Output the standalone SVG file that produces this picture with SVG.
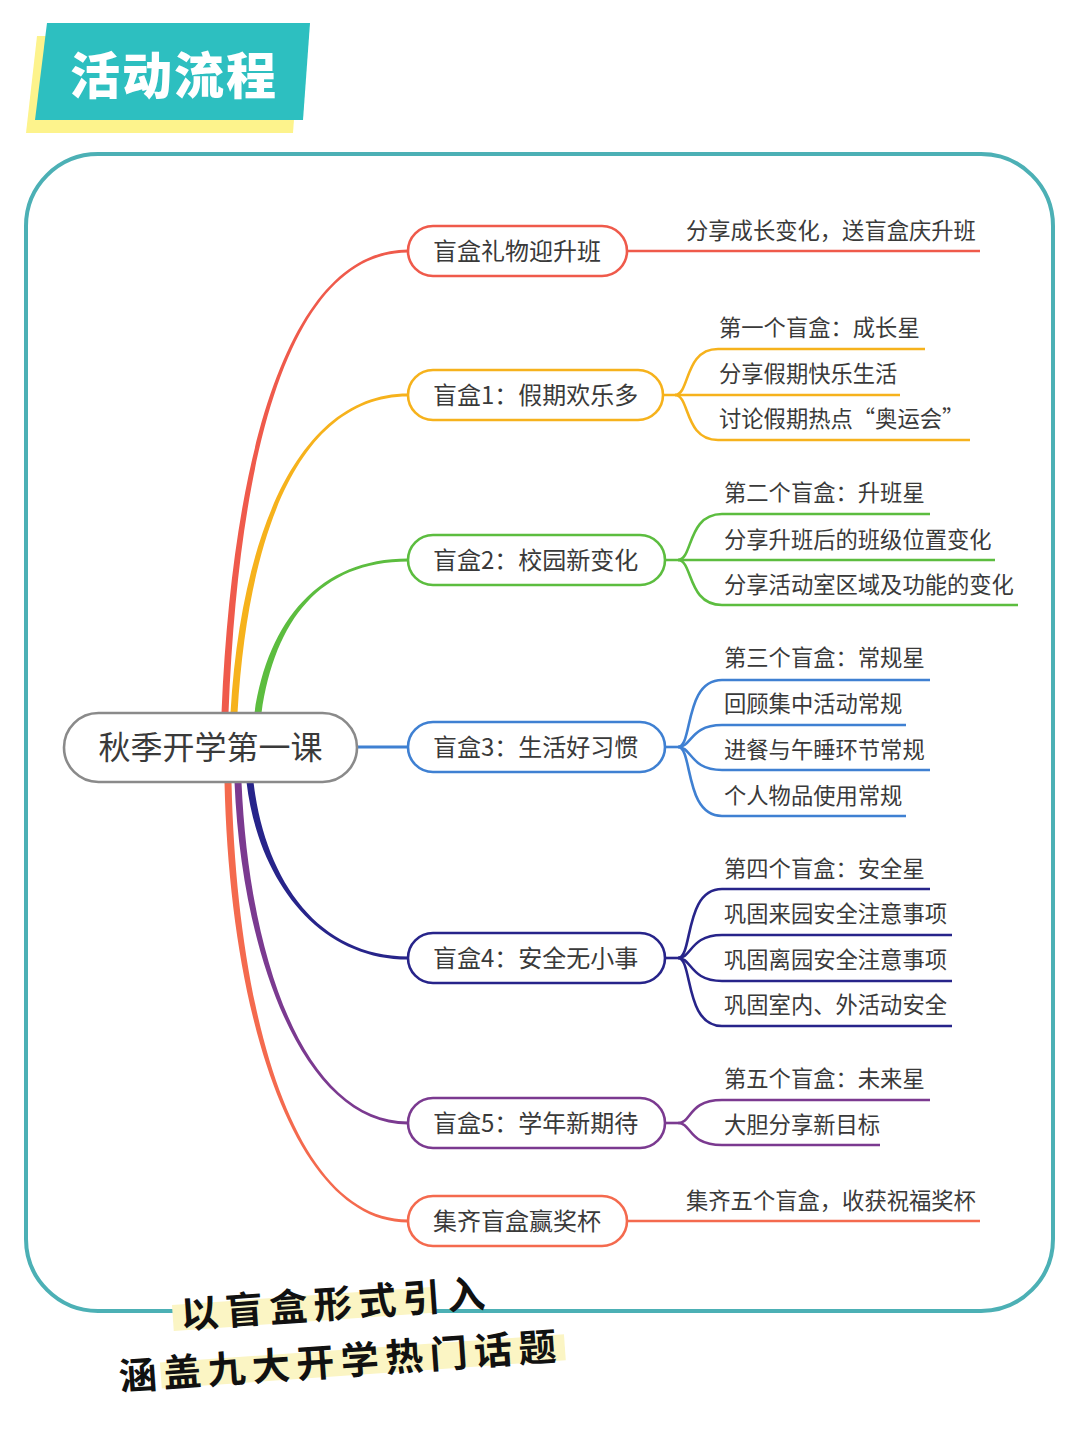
<svg xmlns="http://www.w3.org/2000/svg" width="1080" height="1440" viewBox="0 0 1080 1440">
<style>
.t{font-family:"Noto Sans CJK SC","Liberation Sans",sans-serif;fill:#3a3a3a}
.l1{font-size:24px}
.l2{font-size:22.3px}
.pill{fill:#fff;stroke-width:2.6}
.ln{fill:none;stroke-width:2.6}
.hw{font-family:"Noto Sans CJK SC",sans-serif;font-weight:700;font-size:38px;fill:#111;letter-spacing:6.5px}
</style>
<rect width="1080" height="1440" fill="#fff"/>
<g id="title">
<polygon points="37,36 300,36 293,133 26,133" fill="#fdf38c"/>
<polygon points="47,23 310,23 303,120 35,120" fill="#2dbfc0"/>
<text x="70" y="94" font-family="Noto Sans CJK SC,sans-serif" font-weight="900" font-size="50" fill="#fff" letter-spacing="2">活动流程</text>
</g>
<rect id="frame" x="26" y="154" width="1027" height="1157" rx="72" fill="none" stroke="#4cb0b5" stroke-width="4"/>
<g id="connectors">
<path d="M221.5,713 C234,420 300,249.5 408,249.5 L408,252.5 C300,252.5 240,420 228.5,713 Z" fill="#ef5a4b"/>
<path d="M230.5,713 C242,520 305,393.5 408,393.5 L408,396.5 C305,396.5 249,520 237.5,713 Z" fill="#f6b21c"/>
<path d="M254.5,713 C268,620 320,558.5 408,558.5 L408,561.5 C320,561.5 275,620 261.5,713 Z" fill="#5cbd3f"/>
<path d="M357,747 L408,747" stroke="#3f80d2" stroke-width="3" fill="none"/>
<path d="M246.5,782 C258,880 318,959.5 408,959.5 L408,956.5 C318,956.5 265,880 253.5,782 Z" fill="#27248a"/>
<path d="M234.5,782 C242,960 305,1124.5 408,1124.5 L408,1121.5 C305,1121.5 249,960 241.5,782 Z" fill="#7b3a90"/>
<path d="M224.5,782 C230,1020 295,1222.5 408,1222.5 L408,1219.5 C295,1219.5 237,1020 231.5,782 Z" fill="#f46a4e"/>
<g stroke="#ef5a4b" class="ln"><path d="M627,251 L980,251"/></g>
<g stroke="#f6b21c" class="ln">
<path d="M663,395 L900,395"/>
<path d="M675,395 C690,395 684,349 718,349 L925,349"/>
<path d="M675,395 C690,395 684,440 718,440 L970,440"/>
</g>
<g stroke="#5cbd3f" class="ln">
<path d="M665,560 L995,560"/>
<path d="M678,560 C693,560 687,514 722,514 L930,514"/>
<path d="M678,560 C693,560 687,605 722,605 L1018,605"/>
</g>
<g stroke="#3f80d2" class="ln">
<path d="M665,747 L678,747"/>
<path d="M678,747 C693,747 684,680 722,680 L930,680"/>
<path d="M678,747 C692,747 690,725 722,725 L906,725"/>
<path d="M678,747 C692,747 690,770 722,770 L930,770"/>
<path d="M678,747 C693,747 684,816 722,816 L906,816"/>
</g>
<g stroke="#27248a" class="ln">
<path d="M665,958 L678,958"/>
<path d="M678,958 C693,958 684,889 722,889 L930,889"/>
<path d="M678,958 C692,958 690,935 722,935 L952,935"/>
<path d="M678,958 C692,958 690,981 722,981 L952,981"/>
<path d="M678,958 C693,958 684,1026 722,1026 L952,1026"/>
</g>
<g stroke="#7b3a90" class="ln">
<path d="M665,1123 L678,1123"/>
<path d="M678,1123 C692,1123 688,1100 722,1100 L930,1100"/>
<path d="M678,1123 C692,1123 688,1145 722,1145 L880,1145"/>
</g>
<g stroke="#f46a4e" class="ln"><path d="M627,1221 L980,1221"/></g>
</g>
<g id="root">
<rect x="64" y="713" width="293" height="69" rx="34.5" fill="#fff" stroke="#8a8a8a" stroke-width="2.6"/>
<text class="t" x="210.5" y="758.5" font-size="32" text-anchor="middle">秋季开学第一课</text>
</g>
<g id="n1"><rect class="pill" x="408" y="226" width="219" height="50" rx="25" stroke="#ef5a4b"/><text class="t l1" x="433" y="259.5">盲盒礼物迎升班</text>
<text class="t l2" x="686" y="239">分享成长变化，送盲盒庆升班</text></g>
<g id="n2"><rect class="pill" x="408" y="370" width="255" height="50" rx="25" stroke="#f6b21c"/><text class="t l1" x="433" y="403.5">盲盒1：假期欢乐多</text>
<text class="t l2" x="719" y="336">第一个盲盒：成长星</text>
<text class="t l2" x="719" y="382">分享假期快乐生活</text>
<text class="t l2" x="719" y="427">讨论假期热点“奥运会”</text></g>
<g id="n3"><rect class="pill" x="408" y="535" width="257" height="50" rx="25" stroke="#5cbd3f"/><text class="t l1" x="433" y="568.5">盲盒2：校园新变化</text>
<text class="t l2" x="724" y="501">第二个盲盒：升班星</text>
<text class="t l2" x="724" y="548">分享升班后的班级位置变化</text>
<text class="t l2" x="724" y="593">分享活动室区域及功能的变化</text></g>
<g id="n4"><rect class="pill" x="408" y="722" width="257" height="50" rx="25" stroke="#3f80d2"/><text class="t l1" x="433" y="755.5">盲盒3：生活好习惯</text>
<text class="t l2" x="724" y="666">第三个盲盒：常规星</text>
<text class="t l2" x="724" y="712">回顾集中活动常规</text>
<text class="t l2" x="724" y="758">进餐与午睡环节常规</text>
<text class="t l2" x="724" y="804">个人物品使用常规</text></g>
<g id="n5"><rect class="pill" x="408" y="933" width="257" height="50" rx="25" stroke="#27248a"/><text class="t l1" x="433" y="966.5">盲盒4：安全无小事</text>
<text class="t l2" x="724" y="877">第四个盲盒：安全星</text>
<text class="t l2" x="724" y="922">巩固来园安全注意事项</text>
<text class="t l2" x="724" y="968">巩固离园安全注意事项</text>
<text class="t l2" x="724" y="1013">巩固室内、外活动安全</text></g>
<g id="n6"><rect class="pill" x="408" y="1098" width="257" height="50" rx="25" stroke="#7b3a90"/><text class="t l1" x="433" y="1131.5">盲盒5：学年新期待</text>
<text class="t l2" x="724" y="1087">第五个盲盒：未来星</text>
<text class="t l2" x="724" y="1133">大胆分享新目标</text></g>
<g id="n7"><rect class="pill" x="408" y="1196" width="219" height="50" rx="25" stroke="#f46a4e"/><text class="t l1" x="433" y="1229.5">集齐盲盒赢奖杯</text>
<text class="t l2" x="686" y="1209">集齐五个盲盒，收获祝福奖杯</text></g>
<g id="handwriting">
<g transform="rotate(-4 330 1300)">
<rect x="172" y="1294" width="260" height="26" fill="#fbf5c4"/>
<text class="hw" x="180" y="1318">以盲盒形式引入</text>
</g>
<g transform="rotate(-4 340 1357)">
<rect x="160" y="1350" width="405" height="26" fill="#fbf5c4"/>
<text class="hw" x="118" y="1375">涵盖九大开学热门话题</text>
</g>
</g>
</svg>
